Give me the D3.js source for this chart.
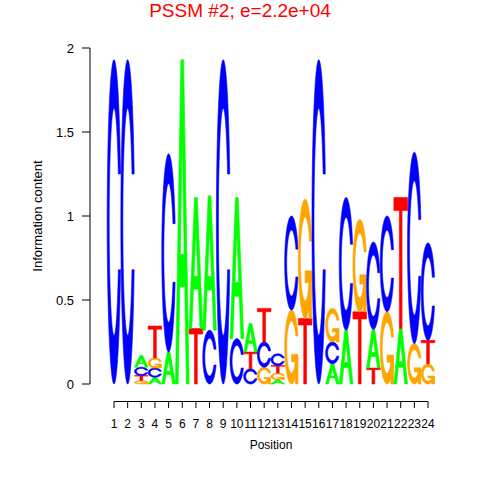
<!DOCTYPE html>
<html><head><meta charset="utf-8">
<script src="https://cdn.jsdelivr.net/npm/d3@7"></script>
<style>body{margin:0;background:#fff}svg{display:block}text{font-family:"Liberation Sans",Arial,sans-serif}</style>
</head><body>
<script>
const positions = d3.range(1, 25);
const bases = ["A", "C", "G", "T"];
const heightA = [0,0,0.07,0.04,0.19,1.93,0.78,0.80,0,0.84,0.17,0,0.025,0,0,0,0.12,0.32,0,0.23,0,0.33,0,0];
const heightC = [1.93,1.93,0.05,0.055,1.18,0,0,0.32,1.93,0.27,0.09,0.15,0.07,0.56,0,1.93,0.13,0.79,0,0.52,0.57,0,1.14,0.58];
const heightG = [0,0,0.02,0.06,0,0,0,0,0,0,0,0.10,0.04,0.44,0.71,0,0.20,0,0.55,0,0.43,0,0.24,0.12];
const heightT = [0,0,0.03,0.19,0,0,0.33,0,0,0,0.10,0.20,0.045,0,0.39,0,0,0,0.43,0.095,0,0.78,0,0.14];
const yTicks = [0, 0.5, 1, 1.5, 2];
const yTickLabels = ["0", "0.5", "1", "1.5", "2"];
const colors = {A: "#00FF00", C: "#0000FF", G: "#FFA500", T: "#FF0000"};
const titleText = "PSSM #2; e=2.2e+04";

const W = 480, H = 480;
const svg = d3.select("body").append("svg").attr("width", W).attr("height", H);
const x = d3.scaleLinear().domain([1, 24]).range([114, 428]);
const y = d3.scaleLinear().domain([0, 2]).range([384, 48]);

// glyph polygons in unit square (y up)
function cShape() {
  const a1 = d3.range(100).map(i => 0.3 + Math.PI/2 + i*(Math.PI - 0.3 - Math.PI/2)/99);
  const a2 = d3.range(100).map(i => Math.PI + i*(Math.PI/2)/99);
  const xl1 = a1.map(a => 0.5 + 0.5*Math.sin(a)), yl1 = a1.map(a => 0.5 + 0.5*Math.cos(a));
  const xl2 = a2.map(a => 0.5 + 0.5*Math.sin(a)), yl2 = a2.map(a => 0.5 + 0.5*Math.cos(a));
  const xl = xl1.concat(xl2), yl = yl1.concat(yl2);
  const xs = xl.concat(xl.slice().reverse());
  const ys = yl.concat(yl.slice().reverse().map(v => 1 - v));
  const maxY = d3.max(yl1);
  let xi1 = a1.map(a => 0.5 + 0.35*Math.sin(a)), yi1 = a1.map(a => 0.5 + 0.35*Math.cos(a));
  const keep = yi1.map(v => v <= maxY);
  xi1 = xi1.filter((v, i) => keep[i]); yi1 = yi1.filter((v, i) => keep[i]);
  yi1[0] = maxY;
  const xi2 = a2.map(a => 0.5 + 0.35*Math.sin(a)), yi2 = a2.map(a => 0.5 + 0.35*Math.cos(a));
  const xi = xi1.concat(xi2), yi = yi1.concat(yi2);
  const x1 = xi.concat(xi.slice().reverse());
  const y1 = yi.concat(yi.slice().reverse().map(v => 1 - v));
  const X = xs.concat(x1.slice().reverse()), Y = ys.concat(y1.slice().reverse());
  return {pts: X.map((v, i) => [v, Y[i]]), r1: d3.max(xl1)};
}
const C = cShape();
const glyphs = {
  A: [[[0,0],[0.4,1],[0.6,1],[1,0],[0.8,0],[0.68,0.3],[0.32,0.3],[0.2,0]], [[0.36,0.4],[0.5,0.75],[0.64,0.4]]],
  C: [C.pts],
  G: [C.pts, [[C.r1,0.4],[0.5,0.4],[0.5,0.3],[C.r1-0.2,0.3],[C.r1-0.2,0],[C.r1,0]]],
  T: [[[0,1],[1,1],[1,0.9],[0.6,0.9],[0.6,0],[0.4,0],[0.4,0.9],[0,0.9]]]
};
const heights = {A: heightA, C: heightC, G: heightG, T: heightT};

const logo = svg.append("g");
positions.forEach((p, i) => {
  const stack = bases.map(b => ({b, h: heights[b][i]})).filter(d => d.h > 0).sort((a, b) => a.h - b.h);
  let base = 0;
  const x0 = x(p - 0.5), w = x(p + 0.5) - x(p - 0.5);
  stack.forEach(d => {
    const yb = y(base), hp = y(base) - y(base + d.h);
    const polys = glyphs[d.b];
    const toPath = poly => "M" + poly.map(q => [x0 + q[0]*w, yb - q[1]*hp].join(",")).join("L") + "Z";
    if (d.b === "G") {
      polys.forEach(poly => logo.append("path").attr("d", toPath(poly)).attr("fill", colors[d.b]).attr("stroke", colors[d.b]).attr("stroke-width", 0.6));
    } else {
      logo.append("path").attr("d", polys.map(toPath).join("")).attr("fill-rule", "evenodd")
        .attr("fill", colors[d.b]).attr("stroke", colors[d.b]).attr("stroke-width", 0.6);
    }
    base += d.h;
  });
});

// y axis
const ya = svg.append("g");
ya.append("line").attr("x1", 90).attr("x2", 90).attr("y1", y(2)).attr("y2", y(0)).attr("stroke", "#000");
yTicks.forEach((t, i) => {
  ya.append("line").attr("x1", 82).attr("x2", 90).attr("y1", y(t)).attr("y2", y(t)).attr("stroke", "#000");
  ya.append("text").attr("x", 74).attr("y", y(t)).attr("dy", "0.35em").attr("text-anchor", "end")
    .attr("font-size", 13).text(yTickLabels[i]);
});
// x axis
const xa = svg.append("g");
xa.append("line").attr("x1", x(1)).attr("x2", x(24)).attr("y1", 401.5).attr("y2", 401.5).attr("stroke", "#000");
positions.forEach(p => {
  xa.append("line").attr("x1", x(p)).attr("x2", x(p)).attr("y1", 401.5).attr("y2", 408).attr("stroke", "#000");
  xa.append("text").attr("x", x(p)).attr("y", 428).attr("text-anchor", "middle").attr("font-size", 12).text(p);
});
svg.append("text").attr("x", 271).attr("y", 449).attr("text-anchor", "middle").attr("font-size", 12).text("Position");
svg.append("text").attr("transform", "translate(42,216) rotate(-90)").attr("text-anchor", "middle").attr("font-size", 13).text("Information content");
svg.append("text").attr("x", 240).attr("y", 17).attr("text-anchor", "middle").attr("font-size", 19).attr("fill", "#FF0000").text(titleText);
</script>
</body></html>
